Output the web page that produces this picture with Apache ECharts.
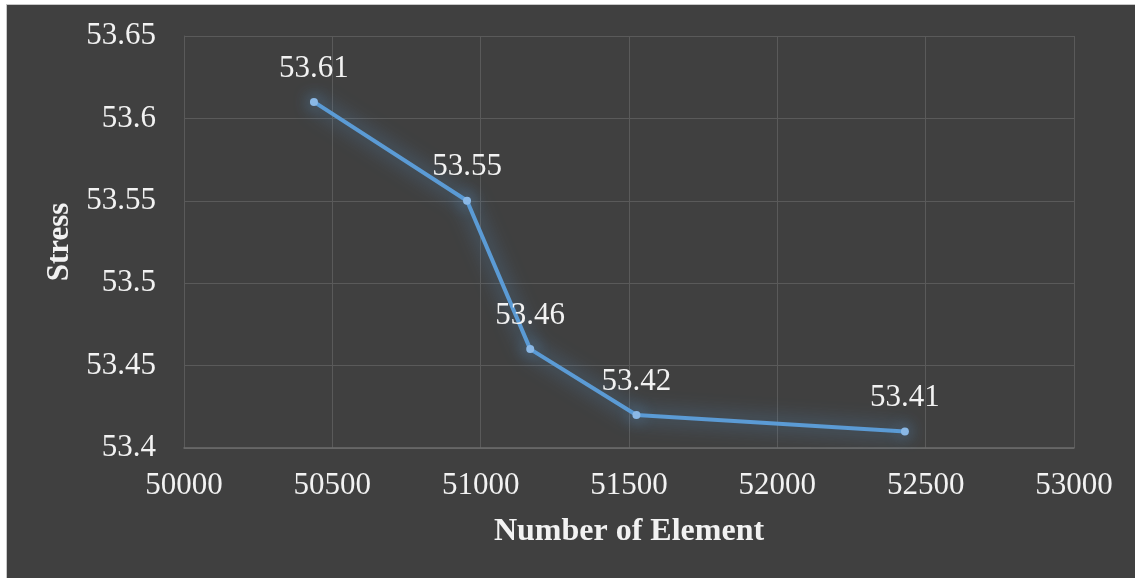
<!DOCTYPE html>
<html>
<head>
<meta charset="utf-8">
<script src="https://cdn.jsdelivr.net/npm/echarts@6/dist/echarts.min.js"></script>
<style>
  html, body { margin: 0; padding: 0; background: #ffffff; width: 1135px; height: 578px; overflow: hidden; }
  #frame { position: absolute; left: 6px; top: 4px; width: 1129px; height: 574px;
           border-left: 1px solid #c8c8c8; border-top: 1px solid #c8c8c8; box-sizing: border-box; background: #404040; }
  #main { position: absolute; left: 7px; top: 5px; width: 1128px; height: 573px; }
</style>
</head>
<body>
<div id="frame"></div>
<div id="main"></div>
<script>
// Mesh convergence: stress versus element count
const elements = [50438, 50954, 51167, 51525, 52430];
const stress = [53.61, 53.55, 53.46, 53.42, 53.41];
const xTicks = { min: 50000, max: 53000, step: 500 };
const yTicks = { min: 53.4, max: 53.65, step: 0.05 };
const xTitle = 'Number of Element';
const yTitle = 'Stress';

const serif = '"Liberation Serif", "Times New Roman", serif';
const gridColor = '#5a5a5a';
const axisColor = '#6c6c6c';

const chart = echarts.init(document.getElementById('main'), null, { renderer: 'canvas' });
chart.setOption({
  backgroundColor: 'transparent',
  animation: false,
  grid: { left: 177, top: 31, width: 890, height: 412 },
  xAxis: {
    type: 'value',
    min: xTicks.min, max: xTicks.max, interval: xTicks.step,
    name: xTitle,
    nameLocation: 'middle',
    nameGap: 68,
    nameTextStyle: { color: '#f2f2f2', fontFamily: serif, fontSize: 32, fontWeight: 'bold' },
    axisLine: { show: true, lineStyle: { color: axisColor, width: 1.5 } },
    axisTick: { show: false },
    splitLine: { show: true, lineStyle: { color: gridColor, width: 1 } },
    axisLabel: { color: '#f2f2f2', fontFamily: serif, fontSize: 31, margin: 22,
                 formatter: v => String(v) }
  },
  yAxis: {
    type: 'value',
    min: yTicks.min, max: yTicks.max, interval: yTicks.step,
    name: yTitle,
    nameLocation: 'middle',
    nameGap: 109,
    nameRotate: 90,
    nameTextStyle: { color: '#f2f2f2', fontFamily: serif, fontSize: 31, fontWeight: 'bold' },
    axisLine: { show: true, lineStyle: { color: gridColor, width: 1 } },
    axisTick: { show: false },
    splitLine: { show: true, lineStyle: { color: gridColor, width: 1 } },
    axisLabel: { color: '#f2f2f2', fontFamily: serif, fontSize: 31, margin: 28,
                 formatter: v => String(parseFloat(v.toFixed(2))) }
  },
  series: [{
    type: 'line',
    data: elements.map((x, i) => [x, stress[i]]),
    lineStyle: { color: '#5b9bd5', width: 4,
                 shadowColor: 'rgba(91,155,213,0.85)', shadowBlur: 20 },
    symbol: 'circle',
    symbolSize: 8,
    itemStyle: { color: '#8ab8e6', shadowColor: 'rgba(91,155,213,1)', shadowBlur: 16 },
    label: {
      show: true, position: 'top', distance: 14,
      color: '#f2f2f2', fontFamily: serif, fontSize: 31,
      formatter: p => String(p.value[1])
    }
  }]
});
</script>
</body>
</html>
